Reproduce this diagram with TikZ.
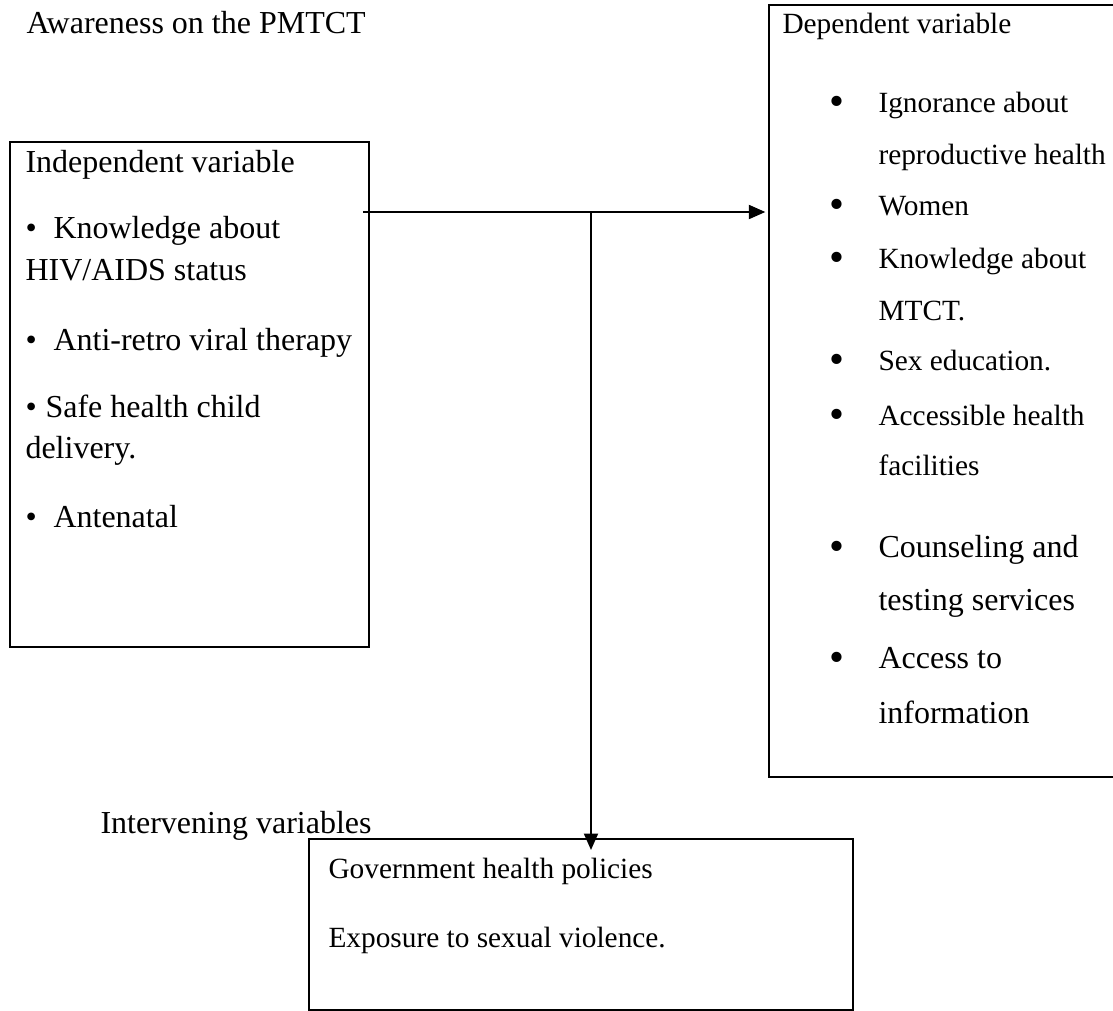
\documentclass[tikz,border=0pt]{standalone}
\usepackage{fontspec}
\setmainfont{Liberation Serif}
\usetikzlibrary{arrows.meta,fit}

\begin{document}
\begin{tikzpicture}[x=0.375pt,y=-0.375pt,
    box/.style={draw,line width=0.7pt,inner sep=0pt},
    txt/.style={inner sep=0pt,anchor=base west,font=\fontsize{12}{14}\selectfont},
    small/.style={txt,font=\fontsize{11}{13}\selectfont},
    bul/.style={inner sep=0pt,anchor=base,yshift=-1.3pt,font=\fontsize{16}{16}\selectfont},
    lbul/.style={inner sep=0pt,anchor=base west,font=\fontsize{12}{12}\selectfont},
    arr/.style={-{Triangle[length=6.2pt,width=5.2pt]},line width=0.9pt}]
  \useasboundingbox (0,0) rectangle (1113,1011);

  % title
  \node[txt] (title) at (26,33) {Awareness on the PMTCT};

  % independent variable box
  \node[box,fit={(10,142) (369,647)}] (indep) {};
  \node[txt] (indephead) at (25,172) {Independent variable};
  \node[lbul] (ib1) at (25,238) {•};
  \node[txt] (i1) at (53,238) {Knowledge about};
  \node[txt] (i1b) at (25,280) {HIV/AIDS status};
  \node[lbul] (ib2) at (25,350) {•};
  \node[txt] (i2) at (53,350) {Anti-retro viral therapy};
  \node[lbul] (ib3) at (25,417) {•};
  \node[txt] (i3) at (45,417) {Safe health child};
  \node[txt] (i3b) at (25,458) {delivery.};
  \node[lbul] (ib4) at (25,527) {•};
  \node[txt] (i4) at (53,527) {Antenatal};

  % dependent variable box
  \node[box,fit={(769,5) (1118,777)}] (dep) {};
  \node[small] (dephead) at (782,33) {Dependent variable};
  \foreach \y in {112,215,268,370,425,557,668}
    \node[bul] at (837,\y) {•};
  \node[small] (d1) at (878,112) {Ignorance about};
  \node[small] (d1b) at (878,164) {reproductive health};
  \node[small] (d2) at (878,215) {Women};
  \node[small] (d3) at (878,268) {Knowledge about};
  \node[small] (d3b) at (878,320) {MTCT.};
  \node[small] (d4) at (878,370) {Sex education.};
  \node[small] (d5) at (878,425) {Accessible health};
  \node[small] (d5b) at (878,475) {facilities};
  \node[txt] (d6) at (878,557) {Counseling and};
  \node[txt] (d6b) at (878,610) {testing services};
  \node[txt] (d7) at (878,668) {Access to};
  \node[txt] (d7b) at (878,723) {information};

  % intervening variables box
  \node[txt] (intervhead) at (100,833) {Intervening variables};
  \node[box,fit={(309,839) (853,1010)}] (interv) {};
  \node[small] (v1) at (328,878) {Government health policies};
  \node[small] (v2) at (328,947) {Exposure to sexual violence.};

  % connectors
  \coordinate (start) at (363,212);
  \coordinate (split) at (591,212);
  \draw[arr,shorten >=1pt] (start) -- (start -| dep.west);
  \draw[arr,shorten >=-4.5pt] (split) -- (split |- interv.north);
\end{tikzpicture}
\end{document}
